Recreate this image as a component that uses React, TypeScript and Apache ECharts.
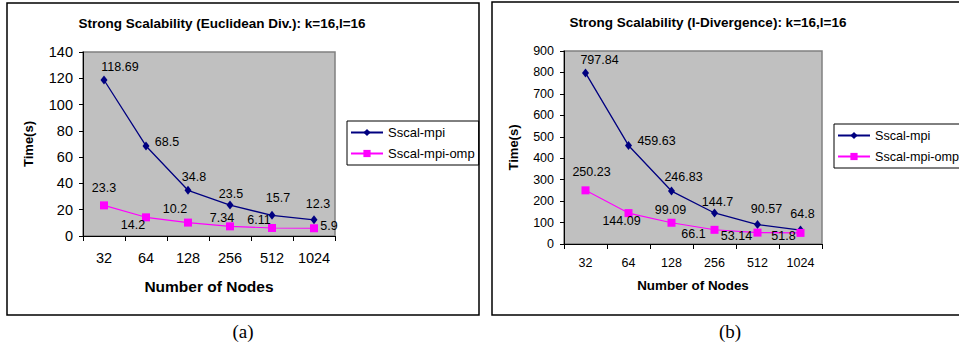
import React, { useEffect, useRef } from "react";
import * as echarts from "echarts";

const categories = ["32", "64", "128", "256", "512", "1024"];
const seriesNames = ["Sscal-mpi", "Sscal-mpi-omp"];
const euclidMpi = [118.69, 68.5, 34.8, 23.5, 15.7, 12.3];
const euclidOmp = [23.3, 14.2, 10.2, 7.34, 6.11, 5.9];
const idivMpi = [797.84, 459.63, 246.83, 144.7, 90.57, 64.8];
const idivOmp = [250.23, 144.09, 99.09, 66.1, 53.14, 51.8];
const titleA = "Strong Scalability (Euclidean Div.): k=16,l=16";
const titleB = "Strong Scalability (I-Divergence): k=16,l=16";
const xName = "Number of Nodes";
const yName = "Time(s)";

// label offsets (layout only)
const offEuMpi = [[16, -13], [21, -4], [6, -13], [1, -11], [6, -17], [4, -16]];
const offEuOmp = [[0, -17], [-13, 8], [-13, -14], [-8, -8], [-13, -8], [15, -2]];
const offIdMpi = [[14, -13], [28, -4], [12, -14], [3, -11], [9, -16], [2, -16]];
const offIdOmp = [[6, -18], [-7, 8], [-1, -13], [-21, 4], [-21, 3], [-17, 3]];

const FONT = "'Liberation Sans', Arial, sans-serif";
const NAVY = "#000080";
const MAGENTA = "#FF00FF";

function mkSeries(name: string, values: number[], offs: number[][], idx: number, isMpi: boolean, fs: number) {
  return {
    name,
    type: "line",
    xAxisIndex: idx,
    yAxisIndex: idx,
    symbol: isMpi ? "diamond" : "rect",
    symbolSize: isMpi ? [7, 9] : 8,
    lineStyle: { color: isMpi ? NAVY : MAGENTA, width: isMpi ? 1.3 : 1.1 },
    itemStyle: { color: isMpi ? NAVY : MAGENTA },
    label: {
      show: true,
      position: "inside",
      color: "#000",
      fontFamily: FONT,
      fontSize: fs,
      formatter: (p: any) => String(p.value),
    },
    data: values.map((v, i) => ({ value: v, label: { offset: offs[i] } })),
  };
}

function axisX(idx: number, fs: number, margin: number, nameGap: number, nameFs: number) {
  return {
    type: "category",
    gridIndex: idx,
    data: categories,
    boundaryGap: true,
    name: xName,
    nameLocation: "middle",
    nameGap,
    nameTextStyle: { fontFamily: FONT, fontWeight: "bold", fontSize: nameFs, color: "#000" },
    axisLine: { show: true, lineStyle: { color: "#000", width: 1 } },
    axisTick: { show: true, inside: false, length: 5, alignWithLabel: false, lineStyle: { color: "#000" } },
    axisLabel: { fontFamily: FONT, fontSize: fs, color: "#000", margin },
    splitLine: { show: false },
  };
}

function axisY(idx: number, max: number, interval: number, fs: number, nameGap: number) {
  return {
    type: "value",
    gridIndex: idx,
    min: 0,
    max,
    interval,
    name: yName,
    nameLocation: "middle",
    nameGap,
    nameTextStyle: { fontFamily: FONT, fontWeight: "bold", fontSize: 13, color: "#000" },
    axisLine: { show: true, lineStyle: { color: "#000", width: 1 } },
    axisTick: { show: true, inside: false, length: 4, lineStyle: { color: "#000" } },
    axisLabel: { fontFamily: FONT, fontSize: fs, color: "#000", margin: 10 },
    splitLine: { show: false },
  };
}

function legend(left: number, top: number, fs: number) {
  return {
    show: true,
    orient: "vertical",
    left,
    top,
    data: seriesNames.map((n) => ({ name: n })),
    itemWidth: 32,
    itemHeight: 9,
    itemGap: 8,
    padding: [5, 4, 5, 3],
    borderColor: "#000",
    borderWidth: 1,
    backgroundColor: "#fff",
    textStyle: { fontFamily: FONT, fontSize: fs, color: "#000" },
    lineStyle: { width: 2 },
    selectedMode: false,
  };
}

export default function App() {
  const ref = useRef<HTMLDivElement>(null);
  useEffect(() => {
    if (!ref.current) return;
    const chart = echarts.init(ref.current, null, { renderer: "svg" });
    const option: any = {
      animation: false,
      backgroundColor: "#fff",
      title: [
        {
          text: titleA,
          left: 222,
          top: 16,
          textAlign: "center",
          padding: 0,
          textStyle: { fontFamily: FONT, fontWeight: "bold", fontSize: 13.5, color: "#000" },
        },
        {
          text: titleB,
          left: 708,
          top: 15,
          textAlign: "center",
          padding: 0,
          textStyle: { fontFamily: FONT, fontWeight: "bold", fontSize: 13.5, color: "#000" },
        },
      ],
      legend: [legend(347, 121, 13), legend(834, 124, 12.6)],
      grid: [
        {
          left: 83, top: 52, width: 252, height: 184,
          show: true, backgroundColor: "#C0C0C0", borderColor: "#808080", borderWidth: 1.5,
        },
        {
          left: 564, top: 51, width: 258, height: 193,
          show: true, backgroundColor: "#C0C0C0", borderColor: "#808080", borderWidth: 1.5,
        },
      ],
      xAxis: [axisX(0, 14.5, 14, 42, 15.5), axisX(1, 12.5, 12, 35, 13.4)],
      yAxis: [axisY(0, 140, 20, 14.5, 48), axisY(1, 900, 100, 12.5, 44)],
      series: [
        mkSeries(seriesNames[0], euclidMpi, offEuMpi, 0, true, 12.5),
        mkSeries(seriesNames[1], euclidOmp, offEuOmp, 0, false, 12.5),
        mkSeries(seriesNames[0], idivMpi, offIdMpi, 1, true, 12.5),
        mkSeries(seriesNames[1], idivOmp, offIdOmp, 1, false, 12.5),
      ],
      graphic: [
        {
          type: "rect",
          shape: { x: 7, y: 3, width: 472, height: 312 },
          style: { fill: "none", stroke: "#000", lineWidth: 1.5 },
          z: 100,
        },
        {
          type: "rect",
          shape: { x: 492, y: 2, width: 480, height: 313 },
          style: { fill: "none", stroke: "#000", lineWidth: 1.5 },
          z: 100,
        },
        {
          type: "text",
          x: 243,
          y: 331,
          style: {
            text: "(a)",
            fontFamily: "'Liberation Serif', 'Times New Roman', serif",
            fontSize: 19,
            fill: "#000",
            align: "center",
            verticalAlign: "middle",
          },
        },
        {
          type: "text",
          x: 730,
          y: 331,
          style: {
            text: "(b)",
            fontFamily: "'Liberation Serif', 'Times New Roman', serif",
            fontSize: 19,
            fill: "#000",
            align: "center",
            verticalAlign: "middle",
          },
        },
      ],
    };
    chart.setOption(option);
    return () => chart.dispose();
  }, []);
  return (
    <div
      ref={ref}
      style={{ position: "absolute", left: 0, top: 0, width: 959, height: 345 }}
    />
  );
}
